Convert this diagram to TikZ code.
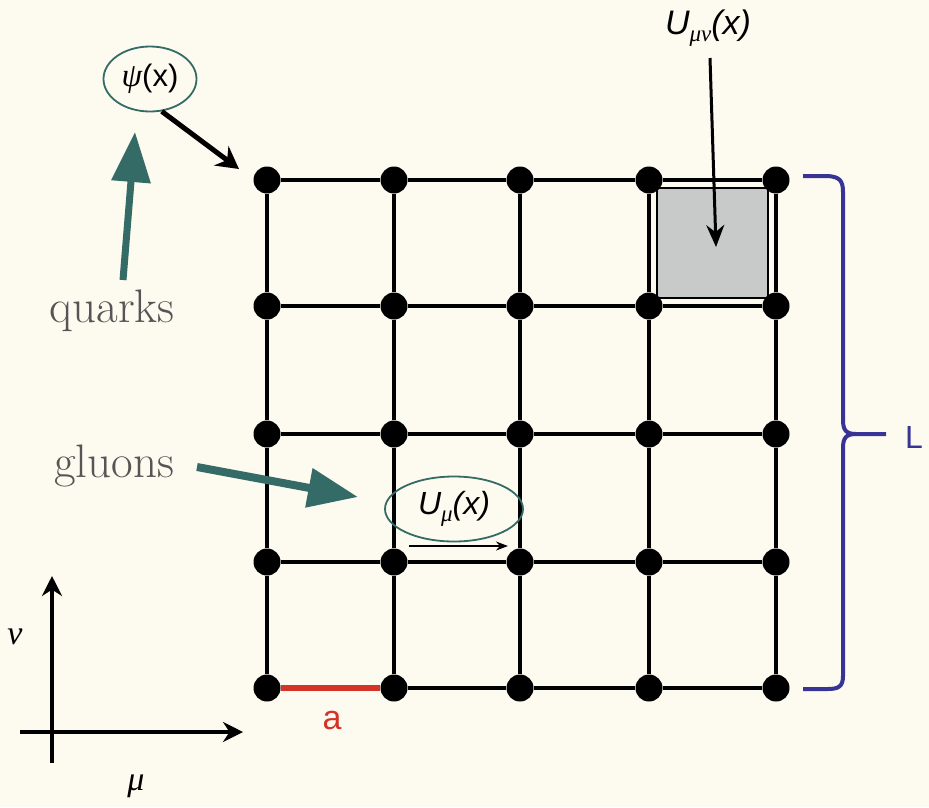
\documentclass[tikz,border=0pt]{standalone}
\usepackage{fontspec}
\newfontfamily\sansfam{Liberation Sans}
\newfontfamily\greekfam{Liberation Serif}
\usetikzlibrary{arrows.meta,calc,shapes.geometric}
\definecolor{bg}{RGB}{253,250,240}
\definecolor{teal2}{RGB}{52,107,103}
\definecolor{braceblue}{RGB}{55,52,150}
\definecolor{linkred}{RGB}{212,52,40}
\definecolor{plaq}{RGB}{200,202,202}
\definecolor{labgray}{RGB}{85,85,85}
\newcommand{\grk}[2]{{\greekfam\itshape\fontsize{#1}{#1}\selectfont #2}}
\newcommand{\grksub}[1]{\raisebox{-7pt}{\grk{23}{#1}}}
\begin{document}
\begin{tikzpicture}[x=1pt,y=-1pt,
  site/.style={circle,fill=black,inner sep=0pt,minimum size=27pt},
  link/.style={line width=4pt,draw=black},
  redlink/.style={line width=5.5pt,draw=linkred},
  tealarrow/.style={line width=7pt,draw=teal2,-{Triangle[length=50pt,width=38pt]}},
  bubble/.style={ellipse,draw=teal2,line width=1.8pt,inner sep=0pt},
  lab/.style={text=labgray,inner sep=1pt,font=\fontsize{47}{50}\selectfont},
  axis/.style={line width=4pt,-{Stealth[length=20pt,width=20pt]}},
  bracestyle/.style={line width=4pt,draw=braceblue,line join=round}
]
\fill[bg] (0,0) rectangle (929,807);
\useasboundingbox (0,0) rectangle (929,807);

% grid coordinates
\foreach \x [count=\i] in {267,394,520,649,776}{
  \foreach \y [count=\j] in {180,306,434,562,688}{
    \coordinate (p-\i-\j) at (\x,\y);
  }
}
% plaquette
\draw[fill=plaq,line width=2.5pt] ($(p-4-1)+(8,8)$) rectangle ($(p-5-2)+(-8,-8)$);

% sites
\foreach \i in {1,...,5}{
  \foreach \j in {1,...,5}{
    \node[site] (n-\i-\j) at (p-\i-\j) {};
  }
}
% links
\foreach \i [evaluate=\i as \k using {int(\i+1)}] in {1,...,4}{
  \foreach \j in {1,...,5}{
    \draw[link] (n-\i-\j) -- (n-\k-\j);
    \draw[link] (n-\j-\i) -- (n-\j-\k);
  }
}
\draw[redlink] (n-1-5) -- (n-2-5);
\node[text=linkred,font={\sansfam\fontsize{34}{34}\selectfont}] (a) at (332,721) {a};

% psi
\node[bubble,minimum width=93pt,minimum height=65pt] (psi) at (150,79)
  {\grk{33}{ψ}\sansfam\fontsize{31}{31}\selectfont(x)};
\coordinate (psiend) at (239,169);
\draw[line width=5pt,-{Stealth[length=22pt,width=24pt]}] (psi.-70) -- (psiend);

% quarks
\node[lab,anchor=base] (quarks) at (112,322) {quarks};
\coordinate (qstart) at (123,280);
\coordinate (qend) at (135,132);
\draw[tealarrow] (qstart) -- (qend);

% gluons
\node[lab,anchor=base] (gluons) at (114,477) {gluons};
\coordinate (gstart) at (197,467);
\coordinate (gend) at (358,497);
\draw[tealarrow,line width=8pt] (gstart) -- (gend);

% U_mu
\node[bubble,minimum width=138pt,minimum height=65pt] (um) at (454,509)
  {\sansfam\itshape\fontsize{32}{32}\selectfont U\grksub{μ}(x)};
\coordinate (ustart) at (409,546);
\coordinate (uend) at (508,546);
\draw[line width=2.5pt,-{Stealth[length=12pt,width=9pt]}] (ustart) -- (uend);

% U_mu nu
\node (umn) at (708,28) {\sansfam\itshape\fontsize{34}{34}\selectfont U\grksub{μν}(x)};
\coordinate (umnfoot) at (710,58);
\coordinate (plaqc) at (716,247);
\draw[line width=3pt,-{Stealth[length=22pt,width=18pt]}] (umnfoot) -- (plaqc);

% brace
\coordinate (btop) at (803,176);
\coordinate (bbot) at (803,689);
\coordinate (btip) at (886,434);
\draw[bracestyle] (btop) -- (828,176) .. controls (839,177) and (843,180) .. (843,192)
  -- (843,420) .. controls (843,430) and (846,434) .. (856,434) -- (btip);
\draw[bracestyle] (856,434) .. controls (846,434) and (843,438) .. (843,448)
  -- (843,676) .. controls (843,686) and (839,689) .. (828,689) -- (bbot);
\node[text=braceblue,font={\sansfam\fontsize{32}{32}\selectfont}] (L) at (914,437) {L};

% axes
\coordinate (vbot) at (52,763);
\coordinate (vtop) at (52,576);
\coordinate (hleft) at (20,732);
\coordinate (hright) at (243,732);
\draw[axis] (vbot) -- (vtop);
\draw[axis] (hleft) -- (hright);
\node (nu) at (15,637) {\grk{34}{ν}};
\node (mu) at (136,786) {\grk{34}{μ}};
\end{tikzpicture}
\end{document}
